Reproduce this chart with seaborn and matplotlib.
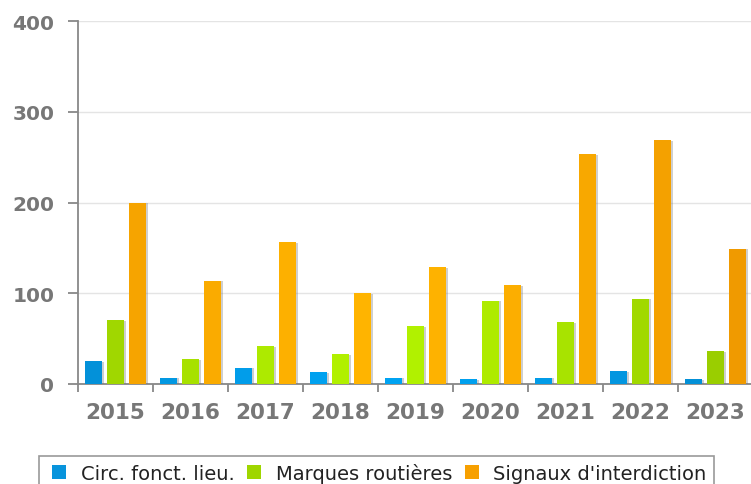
import matplotlib
matplotlib.use("Agg")
import matplotlib.pyplot as plt
import matplotlib.patheffects as pe
from matplotlib.patches import Patch, Rectangle
from matplotlib.ticker import FixedLocator
from matplotlib.colors import to_rgb
import seaborn as sns
import pandas as pd
import numpy as np

years = ["2015", "2016", "2017", "2018", "2019", "2020", "2021", "2022", "2023"]
series = ["Circ. fonct. lieu.", "Marques routières", "Signaux d'interdiction"]
circ = [25, 7, 18, 13, 7, 5, 7, 14, 5]
marques = [70, 27, 42, 33, 64, 92, 68, 94, 36]
signaux = [200, 114, 156, 100, 129, 109, 253, 269, 149]
yticks = [0, 100, 200, 300, 400]
colors = ["#0399e0", "#a6e400", "#ffa800"]
light = ["#00a3f2", "#b2f200", "#ffb400"]
dark = ["#048cd2", "#98cb00", "#f09a00"]

rows = []
for name, vals in zip(series, [circ, marques, signaux]):
    for y, v in zip(years, vals):
        rows.append({"year": y, "series": name, "value": v})
df = pd.DataFrame(rows)

sns.set_theme(style="white")
plt.rcParams["font.family"] = ["DejaVu Sans"]

fig = plt.figure(figsize=(7.51, 4.85), dpi=100)
ax = fig.add_axes([78 / 751, 100 / 485, 675 / 751, 363 / 485])

palette = dict(zip(series, colors))
sns.barplot(data=df, x="year", y="value", hue="series", order=years,
            hue_order=series, palette=palette, width=0.88, gap=0.27,
            saturation=1, legend=False, ax=ax, zorder=3)

# subtle lighting: lighter toward the middle of the chart, darker at the edges
n = len(years)
for i, p in enumerate(ax.patches[: 3 * n]):
    s = i // n
    xc = p.get_x() + p.get_width() / 2
    t = float(np.clip(abs(xc - 3.6) / 4.6, 0, 1)) ** 1.5
    c = (1 - t) * np.array(to_rgb(light[s])) + t * np.array(to_rgb(dark[s]))
    p.set_facecolor(c)
    p.set_edgecolor("none")
    p.set_path_effects([pe.SimplePatchShadow(offset=(1.5, -0.5), shadow_rgbFace="#777777", alpha=0.35), pe.Normal()])

ax.set_xlim(-0.5, n - 0.5)
ax.set_ylim(0, 400)
ax.set_yticks(yticks)
ax.set_xlabel("")
ax.set_ylabel("")
ax.grid(axis="y", color="#e4e4e4", linewidth=1, zorder=0)
ax.grid(axis="x", visible=False)

for s in ["top", "right"]:
    ax.spines[s].set_visible(False)
for s in ["left", "bottom"]:
    ax.spines[s].set_color("#888888")
    ax.spines[s].set_linewidth(1.3)

ax.xaxis.set_minor_locator(FixedLocator([i - 0.5 for i in range(n + 1)]))
ax.tick_params(axis="x", which="major", length=0, pad=13, labelsize=15.5, labelcolor="#777777")
ax.tick_params(axis="x", which="minor", length=6, width=1.3, color="#888888", direction="out", bottom=True)
ax.tick_params(axis="y", which="major", length=7, width=1.3, color="#888888", pad=10, labelsize=14.5, labelcolor="#777777", left=True)
for lab in ax.get_xticklabels() + ax.get_yticklabels():
    lab.set_fontweight("bold")

# legend frame drawn separately (it runs off the bottom edge in the reference)
fig.patches.append(Rectangle((39 / 751, -0.05), (714 - 39) / 751, 0.05 + (485 - 457) / 485,
                             transform=fig.transFigure, facecolor="white",
                             edgecolor="#999999", linewidth=1.2, zorder=0))

handles = [Patch(facecolor=c, edgecolor="none") for c in ["#0894dc", "#9fd600", "#f7a000"]]
leg = fig.legend(handles, series, loc="upper left",
                 bbox_to_anchor=(52 / 751, 1 - 464 / 485), ncol=3,
                 fontsize=14, frameon=False, borderpad=0,
                 handlelength=0.72, handleheight=0.72, handletextpad=0.75,
                 columnspacing=0.65, borderaxespad=0)
for t in leg.get_texts():
    t.set_color("#222222")

fig.savefig("out.png", dpi=100)
